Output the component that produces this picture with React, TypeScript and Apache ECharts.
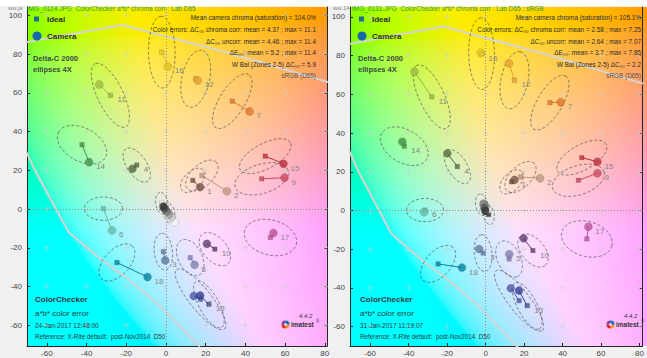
import React, { useEffect, useRef } from "react";
import * as echarts from "echarts";

const FONT = '"Liberation Sans", Arial, sans-serif';

// ---------------- data ----------------
const patchNumbers = [1, 2, 3, 4, 5, 6, 7, 8, 9, 10, 11, 12, 13, 14, 15, 16, 17, 18, 19, 20, 21, 22, 23, 24];
const patchColors = [
  "#735244", "#c29682", "#627a9d", "#576c43", "#8580b1", "#67bdaa", "#e0762e", "#4f5aa6",
  "#cc4a5c", "#5e3c6c", "#9dbc40", "#e6a233", "#383d96", "#469449", "#c0303e", "#e2c226",
  "#bb5695", "#0885a1", "#f6f6f4", "#c8c8c8", "#a0a0a0", "#7a7a79", "#555555", "#343434",
];
// ideal (reference) a*, b*
const idealA = [13.5, 18.1, -1.3, -14.7, 12.2, -31.5, 33.4, 17.4, 48.2, 24.6, -28.0, 15.0, 21.6, -42.3, 50.0, -2.1, 52.6, -24.7, -2.1, -1.4, -0.7, 0.0, 0.8, 1.6];
const idealB = [14.8, 17.3, -22.0, 22.7, -25.1, 0.2, 55.7, -46.6, 15.6, -20.7, 58.7, 67.3, -49.2, 33.2, 27.3, 81.0, -14.7, -27.6, 3.0, 2.0, 1.0, 0.0, -1.0, -2.1];
// left panel camera a*, b*
const leftCamA = [17.2, 30.7, -0.4, -16.9, 14.4, -27.2, 42.1, 14.0, 59.7, 20.6, -33.6, 16.0, 17.2, -38.7, 59.2, 0.9, 54.1, -9.3, 4.3, 2.9, 1.6, 0.3, -0.8, -1.3];
const leftCamB = [11.3, 9.2, -26.5, 20.8, -28.8, -11.0, 50.4, -44.9, 16.2, -17.9, 64.3, 66.4, -44.6, 24.2, 23.4, 73.6, -12.4, -35.1, -6.8, -4.2, -2.8, -1.1, 0.2, 1.3];
// right panel camera a*, b*
const rightCamA = [15.0, 28.3, -3.4, -19.9, 12.3, -32.0, 39.0, 13.1, 58.1, 19.7, -37.0, 12.1, 17.3, -43.3, 58.1, -2.5, 53.4, -12.3, 1.0, 0.2, -0.4, -1.0, -0.6, -0.2];
const rightCamB = [15.8, 16.6, -19.9, 29.5, -22.6, -0.9, 55.9, -40.2, 19.2, -14.4, 71.7, 76.0, -41.4, 35.5, 25.2, 81.5, -8.4, -29.5, 0.4, 1.6, 2.6, 3.6, 1.2, -0.3];
// Delta-C 2000 ellipses (4X): semi-major, semi-minor, angle (deg); 0 = not drawn
const ellMajor = [7.5, 10, 9.5, 10, 10, 9.6, 16, 19.5, 14, 10, 18, 15, 13.5, 13.5, 14.4, 18.5, 13.5, 11.5, 5.6, 0, 0, 0, 0, 5.2];
const ellMinor = [4.5, 5.5, 4.6, 5, 6, 6, 6.5, 5.5, 7.5, 6, 6.5, 7, 5, 8.5, 6.5, 6.7, 9, 6.5, 3.1, 0, 0, 0, 0, 2.8];
const ellAngle = [46, 44, 96, 123, -64, 0, 59, -52, 18, -50, 115, 78, -62, 150, 29, 91, -16, 48, 100, 100, 100, 100, 100, 100];
// sRGB gamut boundary traces
const upperGamutA = [-71, -22, 30, 82];
const upperGamutB = [86, 95, 81, 65.5];
const lowerGamutA = [-71, -66, -49, -32, -20.5, -4, 17];
const lowerGamutB = [31, 20, -12, -26.5, -35, -49, -71];
// ticks
const xTicks = [-60, -40, -20, 0, 20, 40, 60, 80];
const yTicks = [-60, -40, -20, 0, 20, 40, 60, 80, 100];
// texts
const leftStats = [
  "Mean camera chroma (saturation) = 104.0%",
  "Color errors: ΔC₀₀ chroma corr: mean = 4.37 ; max = 11.1",
  "ΔC₀₀ uncorr: mean = 4.46 ; max = 11.4",
  "ΔE₀₀: mean = 5.2 ; max = 11.4",
  "W Bal (Zones 2-5) ΔC₀₀ = 5.9",
  "sRGB (D65)",
];
const rightStats = [
  "Mean camera chroma (saturation) = 105.1%",
  "Color errors: ΔC₀₀ chroma corr: mean = 2.58 ; max = 7.25",
  "ΔC₀₀ uncorr: mean = 2.64 ; max = 7.07",
  "ΔE₀₀: mean = 3.7 ; max = 7.85",
  "W Bal (Zones 2-5) ΔC₀₀ = 2.2",
  "sRGB (D65)",
];
const leftDate = "24-Jan-2017 12:48:00";
const rightDate = "31-Jan-2017 11:19:07";
const leftTitle = "IMG_0124.JPG  ColorChecker a*b* chroma corr : Lab D65";
const rightTitle = "IMG_0131.JPG  ColorChecker a*b* chroma corr : Lab D65 : sRGB";

// ---------------- layout ----------------
const panels = [
  { left: 27, top: 7, width: 300, height: 339, xMin: -70, xMax: 81.1, yMin: -70.7, yMax: 104.3, camA: leftCamA, camB: leftCamB, stats: leftStats, date: leftDate, title: leftTitle, dx: 0 },
  { left: 350, top: 7, width: 301, height: 339, xMin: -70.5, xMax: 81.5, yMin: -70, yMax: 105.1, camA: rightCamA, camB: rightCamB, stats: rightStats, date: rightDate, title: rightTitle, dx: 325 },
];
const BG_L = 92;

function labToRgb(L: number, a: number, b: number): [number, number, number] {
  const fy = (L + 16) / 116, fx = fy + a / 500, fz = fy - b / 200;
  const d = 6 / 29;
  const finv = (t: number) => (t > d ? t * t * t : 3 * d * d * (t - 4 / 29));
  const X = 0.95047 * finv(fx), Y = finv(fy), Z = 1.08883 * finv(fz);
  const r = 3.2406 * X - 1.5372 * Y - 0.4986 * Z;
  const g = -0.9689 * X + 1.8758 * Y + 0.0415 * Z;
  const bl = 0.0557 * X - 0.204 * Y + 1.057 * Z;
  const gam = (v: number) => {
    v = Math.min(1, Math.max(0, v));
    return v <= 0.0031308 ? 12.92 * v : 1.055 * Math.pow(v, 1 / 2.4) - 0.055;
  };
  return [gam(r) * 255, gam(g) * 255, gam(bl) * 255];
}

function makeBackground(w: number, h: number, xMin: number, xMax: number, yMin: number, yMax: number): string {
  const c = document.createElement("canvas");
  c.width = w;
  c.height = h;
  const ctx = c.getContext("2d")!;
  const img = ctx.createImageData(w, h);
  for (let j = 0; j < h; j++) {
    const b = yMax - ((j + 0.5) / h) * (yMax - yMin);
    for (let i = 0; i < w; i++) {
      const a = xMin + ((i + 0.5) / w) * (xMax - xMin);
      const [r, g, bb] = labToRgb(BG_L, a, b);
      const k = (j * w + i) * 4;
      img.data[k] = r;
      img.data[k + 1] = g;
      img.data[k + 2] = bb;
      img.data[k + 3] = 255;
    }
  }
  ctx.putImageData(img, 0, 0);
  return c.toDataURL();
}

function txt(x: number, y: number, text: string, opts: any = {}) {
  const align = opts.align || "left";
  return {
    type: "text",
    x,
    y,
    silent: true,
    z: opts.z ?? 5,
    style: {
      text,
      fill: opts.fill || "#2d2d2d",
      fontSize: opts.fontSize || 7,
      fontWeight: opts.fontWeight || "normal",
      fontStyle: opts.fontStyle || "normal",
      fontFamily: FONT,
      align,
      verticalAlign: "middle",
      textAlign: align,
      textVerticalAlign: "middle",
    },
  };
}

function buildOption() {
  const grid = panels.map((p) => ({ left: p.left, top: p.top, width: p.width, height: p.height, show: false }));
  const axisLineStyle = { color: "#262626", width: 1 };
  const xAxis = panels.map((p, i) => ({
    type: "value",
    gridIndex: i,
    min: p.xMin,
    max: p.xMax,
    position: "bottom",
    axisLine: { show: true, onZero: false, lineStyle: axisLineStyle },
    axisTick: { show: true, inside: true, length: 3, customValues: xTicks, lineStyle: axisLineStyle },
    axisLabel: { customValues: xTicks, fontSize: 8, color: "#454545", margin: 3, fontFamily: FONT },
    splitLine: { show: false },
  }));
  const yAxis: any[] = [];
  panels.forEach((p, i) => {
    yAxis.push({
      type: "value",
      gridIndex: i,
      min: p.yMin,
      max: p.yMax,
      position: "left",
      axisLine: { show: true, onZero: false, lineStyle: axisLineStyle },
      axisTick: { show: true, inside: true, length: 3, customValues: yTicks, lineStyle: axisLineStyle },
      axisLabel: { customValues: yTicks, fontSize: 8, color: "#454545", margin: 5, fontFamily: FONT },
      splitLine: { show: false },
    });
    yAxis.push({
      type: "value",
      gridIndex: i,
      min: p.yMin,
      max: p.yMax,
      position: "right",
      axisLine: { show: true, onZero: false, lineStyle: axisLineStyle },
      axisTick: { show: true, inside: true, length: 3, customValues: yTicks, lineStyle: axisLineStyle },
      axisLabel: { show: false },
      splitLine: { show: false },
    });
  });

  const crosses: number[][] = [];
  xTicks.forEach((x) => yTicks.forEach((y) => crosses.push([x, y])));

  const series: any[] = [];
  const graphic: any[] = [];

  panels.forEach((p, i) => {
    const ax = { xAxisIndex: i, yAxisIndex: 2 * i };
    const idealData = patchNumbers.map((_, k) => [idealA[k], idealB[k]]);
    const camData = patchNumbers.map((_, k) => [p.camA[k], p.camB[k]]);
    const ellData = patchNumbers.map((_, k) => [idealA[k], idealB[k], ellMajor[k], ellMinor[k], ellAngle[k]]);
    const connData = patchNumbers.map((_, k) => [idealA[k], idealB[k], p.camA[k], p.camB[k], k]);
    const labelData = patchNumbers
      .filter((num) => num <= 18)
      .map((num) => {
        const k = num - 1;
        const useIdeal = idealA[k] > p.camA[k];
        return [useIdeal ? idealA[k] : p.camA[k], useIdeal ? idealB[k] : p.camB[k], num];
      });

    series.push({
      type: "line",
      ...ax,
      data: upperGamutA.map((a, k) => [a, upperGamutB[k]]),
      symbol: "none",
      lineStyle: { color: "#d4d4d4", width: 2 },
      silent: true,
      clip: true,
      z: 1,
    });
    series.push({
      type: "line",
      ...ax,
      data: lowerGamutA.map((a, k) => [a, lowerGamutB[k]]),
      symbol: "none",
      lineStyle: { color: "#d4d4d4", width: 2 },
      silent: true,
      clip: true,
      z: 1,
    });
    series.push({
      type: "scatter",
      ...ax,
      data: crosses,
      symbol: "path://M3,0H4V3H7V4H4V7H3V4H0V3H3Z",
      symbolSize: 6,
      itemStyle: { color: "rgba(205,205,205,0.85)" },
      silent: true,
      z: 1,
      markLine: {
        silent: true,
        symbol: "none",
        label: { show: false },
        lineStyle: { color: "#8d8d8d", type: [1, 2], width: 1 },
        data: [{ yAxis: 0 }, { xAxis: 0 }],
      },
    });
    series.push({
      type: "custom",
      ...ax,
      data: ellData,
      encode: { x: 0, y: 1 },
      clip: true,
      silent: true,
      z: 3,
      renderItem: (params: any, api: any) => {
        const cx = api.value(0), cy = api.value(1), M = api.value(2), m = api.value(3);
        if (!(M > 0)) return null;
        const ang = (api.value(4) * Math.PI) / 180;
        const pts: number[][] = [];
        for (let s = 0; s <= 72; s++) {
          const t = (s / 72) * Math.PI * 2;
          const u = M * Math.cos(t), v = m * Math.sin(t);
          pts.push(api.coord([cx + u * Math.cos(ang) - v * Math.sin(ang), cy + u * Math.sin(ang) + v * Math.cos(ang)]));
        }
        return {
          type: "polyline",
          shape: { points: pts },
          style: { stroke: "rgba(60,60,60,0.75)", lineWidth: 0.8, lineDash: [3, 2], fill: null },
        };
      },
    });
    series.push({
      type: "custom",
      ...ax,
      data: connData,
      encode: { x: [0, 2], y: [1, 3] },
      clip: true,
      silent: true,
      z: 4,
      renderItem: (params: any, api: any) => {
        const p1 = api.coord([api.value(0), api.value(1)]);
        const p2 = api.coord([api.value(2), api.value(3)]);
        const c = patchColors[api.value(4)];
        return {
          type: "line",
          shape: { x1: p1[0], y1: p1[1], x2: p2[0], y2: p2[1] },
          style: { stroke: c, lineWidth: 1 },
        };
      },
    });
    series.push({
      type: "scatter",
      ...ax,
      data: idealData,
      symbol: "rect",
      symbolSize: 4.5,
      silent: true,
      z: 5,
      itemStyle: {
        color: (pp: any) => patchColors[pp.dataIndex],
        borderColor: "rgba(0,0,0,0.35)",
        borderWidth: 0.5,
      },
    });
    series.push({
      type: "scatter",
      ...ax,
      data: camData,
      symbol: "circle",
      symbolSize: 8,
      silent: true,
      z: 6,
      itemStyle: {
        color: (pp: any) => patchColors[pp.dataIndex],
        borderColor: "rgba(0,0,0,0.3)",
        borderWidth: 0.5,
      },
    });
    series.push({
      type: "custom",
      ...ax,
      data: labelData,
      encode: { x: 0, y: 1 },
      clip: true,
      silent: true,
      z: 7,
      renderItem: (params: any, api: any) => {
        const pt = api.coord([api.value(0), api.value(1)]);
        return {
          type: "text",
          x: pt[0] + 7,
          y: pt[1] + 4.5,
          style: {
            text: String(api.value(2)),
            fill: "#858585",
            fontSize: 8,
            fontFamily: FONT,
            align: "left",
            verticalAlign: "middle",
          },
        };
      },
    });

    // background image
    graphic.push({
      type: "image",
      x: p.left,
      y: p.top,
      silent: true,
      z: -5,
      style: { image: makeBackground(p.width, p.height, p.xMin, p.xMax, p.yMin, p.yMax), width: p.width, height: p.height },
    });

    const dx = p.dx;
    // title (cut off at top)
    graphic.push(txt(8 + dx, 8, i === 0 ? "ww.ja" : "ww.14", { fill: "#8a8a8a", fontSize: 6 }));
    graphic.push(txt(27 + dx, 8.5, p.title, { fill: "#3c9a2c", fontSize: 6.5 }));
    // legend
    graphic.push({ type: "rect", x: 34 + dx, y: 16.5, silent: true, z: 5, shape: { width: 5, height: 5 }, style: { fill: "#1f6f8b" } });
    graphic.push({ type: "circle", x: 37 + dx, y: 36, silent: true, z: 5, shape: { cx: 0, cy: 0, r: 4.5 }, style: { fill: "#1668a8" } });
    graphic.push(txt(47 + dx, 19.5, "Ideal", { fontWeight: "bold", fontSize: 8 }));
    graphic.push(txt(47 + dx, 36, "Camera", { fontWeight: "bold", fontSize: 8 }));
    graphic.push(txt(33 + dx, 58.5, "Delta-C 2000", { fontWeight: "bold", fontSize: 7.5, fill: "#3b4a40" }));
    graphic.push(txt(33 + dx, 69, "ellipses 4X", { fontWeight: "bold", fontSize: 7.5, fill: "#3b4a40" }));
    // stats
    const statY = [17.5, 29.5, 41, 52.5, 64, 75.5];
    p.stats.forEach((s, k) => {
      graphic.push(txt(316 + dx, statY[k], s, { align: "right", fontSize: 6.4, fill: k === 5 ? "#555" : "#2a2a2a" }));
    });
    // bottom-left texts
    graphic.push(txt(35 + dx, 299, "ColorChecker", { fontWeight: "bold", fontSize: 8, fill: "#2b3a40" }));
    graphic.push(txt(35 + dx, 313, "a*b* color error", { fontSize: 8, fill: "#2b3a40" }));
    graphic.push(txt(35 + dx, 325.5, p.date, { fontSize: 6.5, fill: "#2b3a40" }));
    graphic.push(txt(35 + dx, 336.5, "Reference: X-Rite default:  post-Nov2014  D50", { fontSize: 6.3, fill: "#2b3a40" }));
    // imatest logo
    const lx = 285.5 + dx, ly = 324.5;
    const segColors = ["#f7941d", "#e2231a", "#7b3f98", "#0072bc"];
    segColors.forEach((c, k) => {
      graphic.push({
        type: "sector",
        x: lx,
        y: ly,
        silent: true,
        z: 5,
        shape: { cx: 0, cy: 0, r0: 1.6, r: 4, startAngle: (k * Math.PI) / 2, endAngle: ((k + 1) * Math.PI) / 2 },
        style: { fill: c },
      });
    });
    graphic.push(txt(291 + dx, 324.5, "imatest", { fontWeight: "bold", fontSize: 6.5, fill: "#333" }));
    graphic.push(txt(316 + dx, 321.5, "®", { fontSize: 4.5, fill: "#333" }));
    graphic.push(txt(299 + dx, 315.5, "4.4.2", { fontStyle: "italic", fontSize: 6, fill: "#333" }));
  });

  // white strip at the very top (covers the upper part of the cut title)
  graphic.push({ type: "rect", x: 0, y: 0, silent: true, z: 20, shape: { width: 647, height: 6 }, style: { fill: "#ffffff" } });

  return {
    animation: false,
    backgroundColor: "#f0f0f0",
    grid,
    xAxis,
    yAxis,
    series,
    graphic: { elements: graphic },
  };
}

export default function App() {
  const ref = useRef<HTMLDivElement>(null);
  useEffect(() => {
    const el = ref.current!;
    const chart = echarts.init(el, undefined, { renderer: "svg", width: 647, height: 358 });
    chart.setOption(buildOption() as any);
    return () => chart.dispose();
  }, []);
  return <div ref={ref} style={{ position: "absolute", left: 0, top: 0, width: 647, height: 358 }} />;
}
